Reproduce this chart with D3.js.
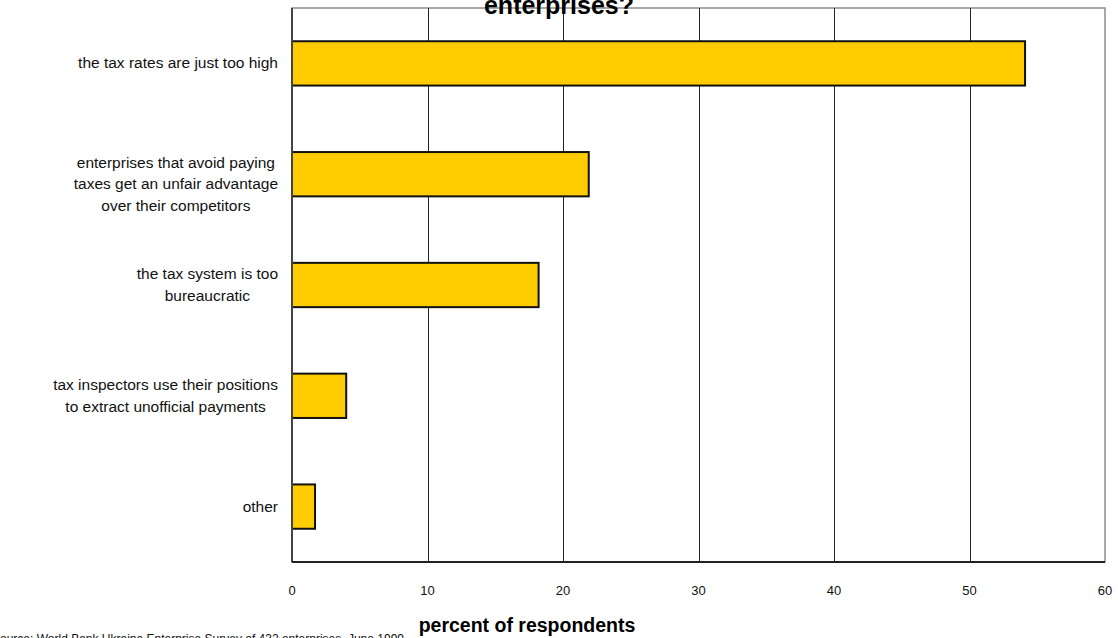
<!DOCTYPE html>
<html>
<head>
<meta charset="utf-8">
<script src="https://cdn.jsdelivr.net/npm/d3@7"></script>
<style>
  body { margin: 0; background: #fff; }
  svg { display: block; font-family: "Liberation Sans", Arial, sans-serif; }
</style>
</head>
<body>
<svg></svg>
<script>
// Chart size
const width = 1118;
const height = 638;

// Data
const categories = [
    ["the tax rates are just too high"],
    ["enterprises that avoid paying", "taxes get an unfair advantage", "over their competitors"],
    ["the tax system is too", "bureaucratic"],
    ["tax inspectors use their positions", "to extract unofficial payments"],
    ["other"]
];
const values = [54.1, 21.9, 18.2, 4.0, 1.7];
const xTicks = [0, 10, 20, 30, 40, 50, 60];

const titleLast = "enterprises?";
const xTitle = "percent of respondents";
const sourceText = "Source: World Bank Ukraine Enterprise Survey of 432 enterprises, June 1999";

// Plot area
const margin = { top: 8, right: 13, bottom: 76, left: 292 };

const svg = d3.select("svg")
    .attr("width", width)
    .attr("height", height);

const x = d3.scaleLinear()
    .domain([0, 60])
    .range([margin.left, width - margin.right]);

const y = d3.scaleBand()
    .domain(d3.range(values.length))
    .range([margin.top, height - margin.bottom])
    .paddingInner(0.6)
    .paddingOuter(0.3);

// Plot border (top and right light grey)
svg.append("rect")
    .attr("x", x(0))
    .attr("y", margin.top)
    .attr("width", x(60) - x(0))
    .attr("height", height - margin.bottom - margin.top)
    .style("fill", "none")
    .style("stroke", "#8c8c8c")
    .style("stroke-width", 1.5);

// Vertical gridlines
svg.selectAll(".grid")
    .data(xTicks.filter(d => d > 0 && d < 60))
    .enter().append("line")
    .attr("class", "grid")
    .attr("x1", d => Math.round(x(d)) + 0.5)
    .attr("x2", d => Math.round(x(d)) + 0.5)
    .attr("y1", margin.top)
    .attr("y2", height - margin.bottom)
    .style("stroke", "#222")
    .style("stroke-width", 1);

// Bars
svg.selectAll(".bar")
    .data(values)
    .enter().append("rect")
    .attr("class", "bar")
    .attr("x", x(0))
    .attr("y", (d, i) => y(i))
    .attr("width", d => x(d) - x(0))
    .attr("height", y.bandwidth())
    .style("fill", "#ffcc00")
    .style("stroke", "#111")
    .style("stroke-width", 2);

// Left and bottom axis lines
svg.append("line")
    .attr("x1", x(0)).attr("x2", x(0))
    .attr("y1", margin.top).attr("y2", height - margin.bottom)
    .style("stroke", "#444")
    .style("stroke-width", 2);
svg.append("line")
    .attr("x1", x(0)).attr("x2", x(60))
    .attr("y1", height - margin.bottom).attr("y2", height - margin.bottom)
    .style("stroke", "#222")
    .style("stroke-width", 2);

// X tick labels
svg.selectAll(".xtick")
    .data(xTicks)
    .enter().append("text")
    .attr("class", "xtick")
    .attr("x", d => x(d))
    .attr("y", 595)
    .attr("text-anchor", "middle")
    .style("font-size", "13px")
    .style("fill", "#111")
    .text(d => d);

// Category labels: block right aligned, lines centred in the block
const labelRight = 278;
const lineGap = 21.5;
const lab = svg.selectAll(".cat")
    .data(categories)
    .enter().append("g")
    .attr("class", "cat");

lab.each(function(lines, i) {
    const g = d3.select(this);
    // three-line label sits a little lower, as in the original
    const shift = lines.length > 2 ? 10 : 0;
    const cy = y(i) + y.bandwidth() / 2 + shift;
    const texts = g.selectAll("text")
        .data(lines)
        .enter().append("text")
        .attr("y", (d, j) => cy + (j - (lines.length - 1) / 2) * lineGap + 5)
        .attr("text-anchor", "middle")
        .style("font-size", "15.5px")
        .style("fill", "#111")
        .text(d => d);
    let maxW = 0;
    texts.each(function() { maxW = Math.max(maxW, this.getComputedTextLength()); });
    texts.attr("x", labelRight - maxW / 2);
});

// Title (only the last line is visible)
svg.append("text")
    .attr("x", 559)
    .attr("y", 14)
    .attr("text-anchor", "middle")
    .style("font-size", "25px")
    .style("font-weight", "bold")
    .style("fill", "#000")
    .text(titleLast);

// X axis title
svg.append("text")
    .attr("x", 527)
    .attr("y", 632)
    .attr("text-anchor", "middle")
    .style("font-size", "19.5px")
    .style("font-weight", "bold")
    .style("fill", "#000")
    .text(xTitle);

// Source note, cut at the bottom edge
svg.append("text")
    .attr("x", -8)
    .attr("y", 643)
    .style("font-size", "12px")
    .style("fill", "#111")
    .text(sourceText);
</script>
</body>
</html>
